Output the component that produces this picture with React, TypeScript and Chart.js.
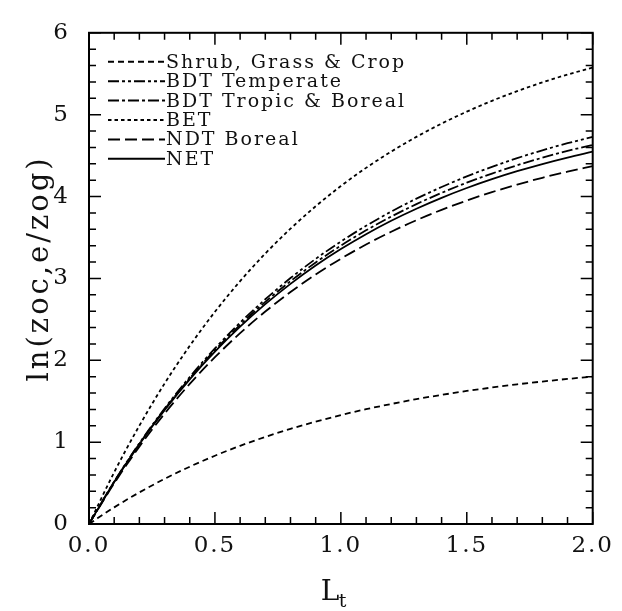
import React, { useEffect, useRef } from "react";
import { Chart, registerables } from "chart.js";

Chart.register(...registerables);

// Leaf area index L_t
const lt = [0, 0.1, 0.2, 0.3, 0.4, 0.5, 0.6, 0.7, 0.8, 0.9, 1.0, 1.1, 1.2, 1.3, 1.4, 1.5, 1.6, 1.7, 1.8, 1.9, 2.0];

const shrubGrassCrop = [0, 0.203, 0.386, 0.551, 0.7, 0.834, 0.955, 1.064, 1.162, 1.25, 1.33, 1.402, 1.466, 1.525, 1.577, 1.625, 1.667, 1.706, 1.74, 1.772, 1.8];
const bdtTemperate = [0, 0.518, 0.987, 1.411, 1.796, 2.144, 2.46, 2.745, 3.004, 3.238, 3.45, 3.642, 3.816, 3.974, 4.116, 4.246, 4.363, 4.469, 4.565, 4.651, 4.73];
const bdtTropicBoreal = [0, 0.515, 0.98, 1.4, 1.78, 2.123, 2.433, 2.713, 2.966, 3.194, 3.4, 3.587, 3.755, 3.907, 4.045, 4.169, 4.281, 4.382, 4.474, 4.557, 4.631];
const bet = [0, 0.632, 1.201, 1.715, 2.176, 2.592, 2.966, 3.304, 3.607, 3.881, 4.128, 4.35, 4.549, 4.729, 4.891, 5.037, 5.169, 5.287, 5.394, 5.49, 5.576];
const ndtBoreal = [0, 0.497, 0.945, 1.348, 1.711, 2.037, 2.331, 2.595, 2.833, 3.048, 3.24, 3.414, 3.57, 3.711, 3.837, 3.951, 4.054, 4.146, 4.229, 4.304, 4.371];
const net = [0, 0.513, 0.975, 1.391, 1.767, 2.105, 2.41, 2.685, 2.933, 3.157, 3.358, 3.54, 3.704, 3.851, 3.984, 4.104, 4.212, 4.309, 4.397, 4.476, 4.548];

const seriesLabels = ["Shrub, Grass & Crop", "BDT Temperate", "BDT Tropic & Boreal", "BET", "NDT Boreal", "NET"];
const seriesValues = [shrubGrassCrop, bdtTemperate, bdtTropicBoreal, bet, ndtBoreal, net];
const seriesDashes: number[][] = [
  [6, 4],
  [11, 3, 3, 3, 3, 3],
  [11, 3, 3, 3],
  [3.5, 3],
  [12, 5],
  [],
];

const xMin = 0, xMax = 2, xMajor = 0.5, xMinor = 0.1;
const yMin = 0, yMax = 6, yMajor = 1, yMinor = 0.2;
const yTitle = "ln(zoc,e/zog)";
const xTitleMain = "L";
const xTitleSub = "t";

const FONT = "'DejaVu Serif', serif";

const textSpacingPlugin = {
  id: "textSpacing",
  beforeLayout(chart: any) { chart.ctx.letterSpacing = "2px"; },
  beforeDraw(chart: any) { chart.ctx.letterSpacing = "2px"; },
};

const framePlugin = {
  id: "frame",
  afterDatasetsDraw(chart: any) {
    const { ctx, chartArea: a, scales } = chart;
    const xs = scales.x, ys = scales.y;
    ctx.save();
    ctx.strokeStyle = "#000";
    ctx.lineWidth = 1.5;
    ctx.setLineDash([]);
    ctx.beginPath();
    const nx = Math.round((xMax - xMin) / xMinor);
    const perX = Math.round(xMajor / xMinor);
    for (let i = 0; i <= nx; i++) {
      const px = xs.getPixelForValue(xMin + i * xMinor);
      const len = i % perX === 0 ? 12 : 7;
      ctx.moveTo(px, a.bottom); ctx.lineTo(px, a.bottom - len);
      ctx.moveTo(px, a.top); ctx.lineTo(px, a.top + len);
    }
    const ny = Math.round((yMax - yMin) / yMinor);
    const perY = Math.round(yMajor / yMinor);
    for (let i = 0; i <= ny; i++) {
      const py = ys.getPixelForValue(yMin + i * yMinor);
      const len = i % perY === 0 ? 12 : 7;
      ctx.moveTo(a.left, py); ctx.lineTo(a.left + len, py);
      ctx.moveTo(a.right, py); ctx.lineTo(a.right - len, py);
    }
    ctx.stroke();
    ctx.lineWidth = 2;
    ctx.strokeRect(a.left, a.top, a.right - a.left, a.bottom - a.top);
    ctx.restore();
  },
  afterDraw(chart: any) {
    const { ctx, chartArea: a } = chart;
    ctx.save();
    // legend
    ctx.fillStyle = "#111";
    ctx.strokeStyle = "#000";
    ctx.font = `19px ${FONT}`;
    ctx.letterSpacing = "2px";
    ctx.textBaseline = "middle";
    ctx.textAlign = "left";
    chart.data.datasets.forEach((ds: any, i: number) => {
      const y = a.top + 29 + i * 19.4;
      ctx.lineWidth = 2;
      ctx.setLineDash(ds.borderDash || []);
      ctx.beginPath();
      ctx.moveTo(a.left + 19, y);
      ctx.lineTo(a.left + 76, y);
      ctx.stroke();
      ctx.fillText(ds.label, a.left + 77, y + 1);
    });
    ctx.setLineDash([]);
    // y title
    ctx.save();
    ctx.translate(40, (a.top + a.bottom) / 2 - 10);
    ctx.rotate(-Math.PI / 2);
    ctx.font = `29px ${FONT}`;
    ctx.letterSpacing = "3px";
    ctx.textAlign = "center";
    ctx.textBaseline = "middle";
    ctx.fillText(yTitle, 0, 0);
    ctx.restore();
    // x title
    ctx.font = `28px ${FONT}`;
    ctx.letterSpacing = "0px";
    ctx.textAlign = "left";
    ctx.textBaseline = "alphabetic";
    const cx = (a.left + a.right) / 2;
    ctx.fillText(xTitleMain, cx - 20, 600);
    ctx.font = `19px ${FONT}`;
    ctx.fillText(xTitleSub, cx - 2, 607);
    ctx.restore();
  },
};

export default function App() {
  const ref = useRef<HTMLCanvasElement | null>(null);
  useEffect(() => {
    document.body.style.margin = "0";
    const canvas = ref.current!;
    const chart = new Chart(canvas, {
      type: "line",
      data: {
        datasets: seriesLabels.map((label, i) => ({
          label,
          data: lt.map((x, j) => ({ x, y: seriesValues[i][j] })),
          borderColor: "#000",
          borderWidth: 1.8,
          borderDash: seriesDashes[i],
          pointRadius: 0,
          fill: false,
          cubicInterpolationMode: "monotone" as const,
        })),
      },
      plugins: [textSpacingPlugin, framePlugin],
      options: {
        animation: false,
        responsive: false,
        devicePixelRatio: 1,
        layout: { padding: { top: 20, right: 24, left: 0, bottom: 0 } },
        plugins: { legend: { display: false }, tooltip: { enabled: false } },
        scales: {
          x: {
            type: "linear",
            min: xMin,
            max: xMax,
            grid: { display: false, drawTicks: false },
            border: { display: false },
            ticks: {
              stepSize: xMajor,
              padding: 8,
              color: "#111",
              font: { family: FONT, size: 23 },
              callback: (v: any) => Number(v).toFixed(1),
              maxRotation: 0,
            },
            afterFit: (s: any) => { s.height = 87; },
          },
          y: {
            type: "linear",
            min: yMin,
            max: yMax,
            grid: { display: false, drawTicks: false },
            border: { display: false },
            ticks: {
              stepSize: yMajor,
              padding: 19,
              color: "#111",
              font: { family: FONT, size: 23 },
              callback: (v: any) => String(v),
            },
            afterFit: (s: any) => { s.width = 89; },
          },
        },
      },
    });
    return () => chart.destroy();
  }, []);
  return <canvas ref={ref} width={622} height={611} style={{ display: "block", width: 622, height: 611 }} />;
}
